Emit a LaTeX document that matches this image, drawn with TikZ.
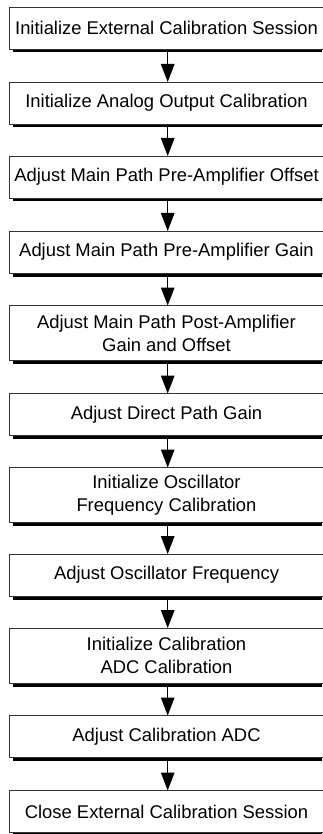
\documentclass[tikz,border=0pt]{standalone}
\usepackage{fontspec}
\setmainfont{Liberation Sans}
\usetikzlibrary{arrows.meta}
\tikzset{
  boxshadow/.style={fill=black},
  boxfill/.style={fill=white},
  boxline/.style={draw=black!80, line width=0.9pt},
  steptext/.style={draw=none, rectangle, minimum width=300pt, inner sep=0pt,
    align=center, font=\fontsize{18.4}{23}\selectfont},
  flowarrow/.style={line width=1.3pt, -{Triangle[length=18pt,width=13.5pt]}}
}
% #1 name, #2 top, #3 bottom, #4 text
\newcommand\flowbox[4]{%
  \fill[boxshadow] (12.5,{-(#2)-3.5}) rectangle (322,{-(#3)-3.5});
  \fill[boxfill] (9,-#2) rectangle (322,-#3);
  \draw[boxline] (323,-#2) -- (9,-#2) -- (9,-#3) -- (323,-#3);
  \node[steptext, minimum height={(#3)-(#2)}] (#1) at (166.5,{-((#2)+(#3))/2}) {#4};
  \coordinate (#1-in) at (167.7,-#2);
  \coordinate (#1-out) at (167.7,{-(#3)-3.5});}
\begin{document}
\begin{tikzpicture}[x=1pt,y=1pt]
\useasboundingbox (0,0) rectangle (322,-834);
\flowbox{n1}{7}{49}{Initialize External Calibration Session}
\flowbox{n2}{82}{124}{Initialize Analog Output Calibration}
\flowbox{n3}{156}{198}{Adjust Main Path Pre-Amplifier Offset}
\flowbox{n4}{231}{273}{Adjust Main Path Pre-Amplifier Gain}
\flowbox{n5}{305.5}{360.5}{Adjust Main Path Post-Amplifier\\Gain and Offset}
\flowbox{n6}{393.5}{435.5}{Adjust Direct Path Gain}
\flowbox{n7}{467.5}{522.5}{Initialize Oscillator\\Frequency Calibration}
\flowbox{n8}{554}{596}{Adjust Oscillator Frequency}
\flowbox{n9}{628}{683}{Initialize Calibration\\ADC Calibration}
\flowbox{n10}{715.5}{757.5}{Adjust Calibration ADC}
\flowbox{n11}{790.5}{832.5}{Close External Calibration Session}
\foreach \a/\b in {n1/n2,n2/n3,n3/n4,n4/n5,n5/n6,n6/n7,n7/n8,n8/n9,n9/n10,n10/n11}
  \draw[flowarrow] (\a-out) -- (\b-in);
\end{tikzpicture}
\end{document}
